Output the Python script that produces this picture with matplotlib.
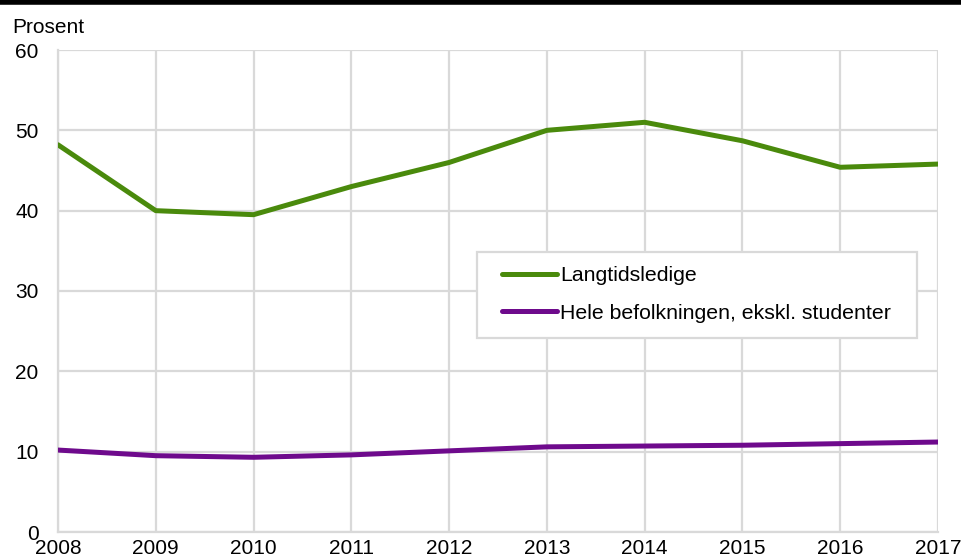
import matplotlib.pyplot as plt
from matplotlib.lines import Line2D
from matplotlib.patches import Rectangle

plt.rcParams['font.family'] = ['Liberation Sans', 'DejaVu Sans']

years = [2008, 2009, 2010, 2011, 2012, 2013, 2014, 2015, 2016, 2017]
langtid = [48.2, 40.0, 39.5, 43.0, 46.0, 50.0, 51.0, 48.7, 45.4, 45.8]
hele = [10.2, 9.5, 9.3, 9.6, 10.1, 10.6, 10.7, 10.8, 11.0, 11.2]
labels = ["Langtidsledige", "Hele befolkningen, ekskl. studenter"]
colors = ["#4a8a0c", "#6e0a8c"]

W, H = 962, 559
fig = plt.figure(figsize=(W / 100, H / 100), dpi=100)
ax = fig.add_axes([58 / W, 1 - 532 / H, 880 / W, 482 / H])

grid_col = "#d9d9d9"
ax.plot(years, langtid, color=colors[0], lw=3.6, label=labels[0], solid_capstyle='round', zorder=3)
ax.plot(years, hele, color=colors[1], lw=3.6, label=labels[1], solid_capstyle='round', zorder=3)

ax.set_xlim(2008, 2017)
ax.set_ylim(0, 60)
ax.set_xticks(years)
ax.set_yticks(range(0, 61, 10))
ax.grid(True, color=grid_col, lw=1.6)
ax.set_axisbelow(True)
for s in ['top', 'right']:
    ax.spines[s].set_visible(False)
for s in ['left', 'bottom']:
    ax.spines[s].set_color(grid_col)
    ax.spines[s].set_linewidth(1.6)
ax.tick_params(length=0, labelsize=15, colors='black')
ax.tick_params(axis='y', pad=14)
ax.tick_params(axis='x', pad=5)

fig.text(12 / W, 1 - 33 / H, "Prosent", fontsize=15, ha='left', va='baseline')

# black rule at top
fig.add_artist(Line2D([0, 1], [0.997, 0.997], color='black', lw=4, transform=fig.transFigure))

# legend: entries without frame, box drawn separately
leg = ax.legend(loc='center left', bbox_to_anchor=(502 / W, 1 - 294.5 / H),
                bbox_transform=fig.transFigure, fontsize=15.3, frameon=False,
                handlelength=2.6, handletextpad=0.15, labelspacing=0.85,
                borderpad=0, borderaxespad=0)
for h in leg.legend_handles:
    h.set_solid_capstyle('round')
leg.set_zorder(6)
box = Rectangle((477 / W, 1 - 338 / H), 440 / W, 86 / H, transform=fig.transFigure,
                facecolor='white', edgecolor=grid_col, lw=1.6, zorder=5, clip_on=False)
ax.add_patch(box)

fig.savefig("out.png", dpi=100)
